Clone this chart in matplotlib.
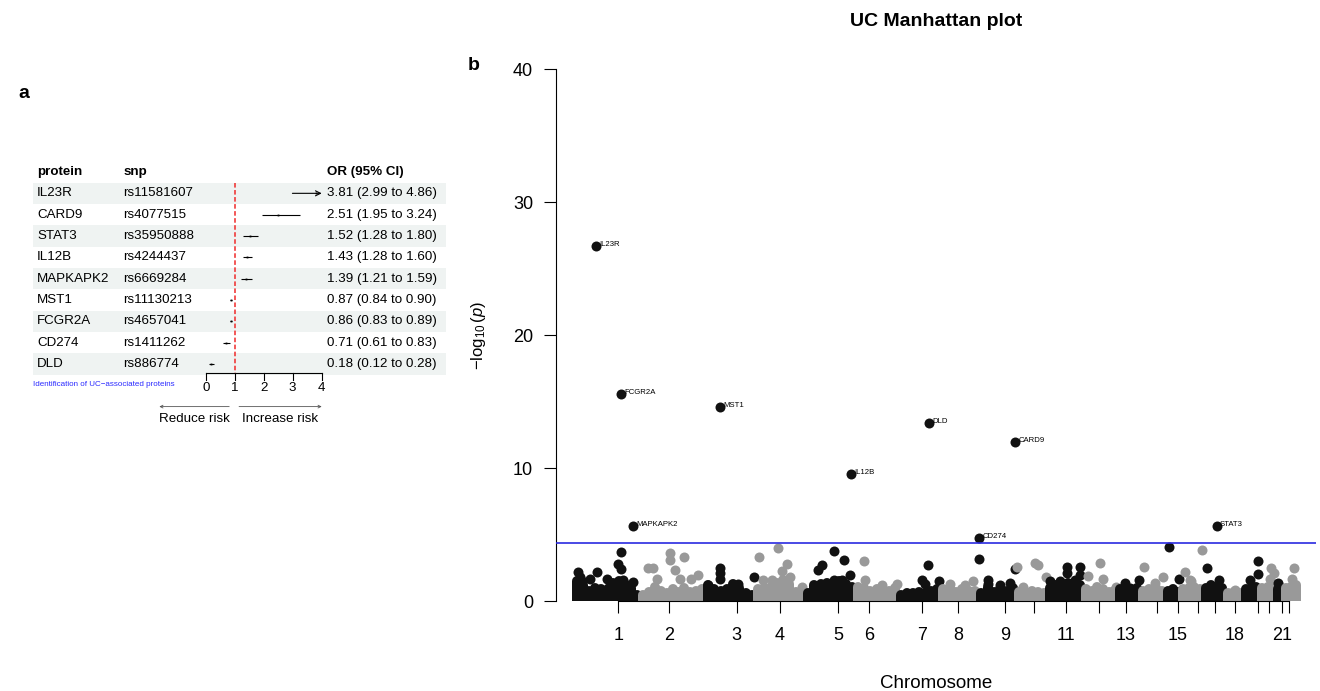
import matplotlib
matplotlib.use("Agg")
import matplotlib.pyplot as plt
import numpy as np
from matplotlib.collections import LineCollection

plt.rcParams['font.family'] = ['Liberation Sans', 'DejaVu Sans']
plt.rcParams['mathtext.fontset'] = 'custom'
plt.rcParams['mathtext.rm'] = 'Liberation Sans'
plt.rcParams['mathtext.it'] = 'Liberation Sans:italic'

# ---------------- Panel a: forest plot data ----------------
proteins = ["IL23R", "CARD9", "STAT3", "IL12B", "MAPKAPK2", "MST1", "FCGR2A", "CD274", "DLD"]
snps = ["rs11581607", "rs4077515", "rs35950888", "rs4244437", "rs6669284",
        "rs11130213", "rs4657041", "rs1411262", "rs886774"]
or_est = [3.81, 2.51, 1.52, 1.43, 1.39, 0.87, 0.86, 0.71, 0.18]
or_lo = [2.99, 1.95, 1.28, 1.28, 1.21, 0.84, 0.83, 0.61, 0.12]
or_hi = [4.86, 3.24, 1.80, 1.60, 1.59, 0.90, 0.89, 0.83, 0.28]
or_ticks = [0, 1, 2, 3, 4]

# ---------------- Panel b: Manhattan data ----------------
chrom_lengths = [66, 65, 50, 50, 50, 43, 42, 38, 38, 31, 36, 34, 23, 25, 15, 23, 22, 18, 16, 17, 7, 15]
chrom_ticks = [44.3, 95.3, 162.7, 206, 264.3, 295.3, 348.3, 384.3, 431, 460.3, 492, 525,
               552, 582.7, 603.7, 623.7, 641, 661, 684.3, 695, 708, 715]
chrom_tick_labels = ['1', '2', '3', '4', '5', '6', '7', '8', '9', '', '11', '', '13', '',
                     '15', '', '', '18', '', '', '21', '']

# dense background (-log10 p envelope of the point cloud, per chromosome)
mass_heights = [
    [1.5, 1.2, 0.8, 1.0, 0.9, 0.7, 1.4, 1.5, 1.3, 1.0, 0.5],
    [0.5, 0.7, 1.1, 0.8, 0.6, 0.9, 0.7, 1.0, 0.7, 0.8, 0.9],
    [1.2, 0.9, 0.8, 0.9, 1.3, 1.0, 0.6, 0.5],
    [0.9, 1.0, 1.1, 1.4, 1.6, 1.3, 0.7, 0.5],
    [0.6, 1.2, 1.3, 1.4, 1.2, 1.5, 1.3, 1.1],
    [1.1, 1.0, 0.8, 0.9, 0.7, 0.8, 1.0],
    [0.5, 0.6, 0.6, 0.7, 0.6, 0.8, 0.9],
    [0.9, 1.0, 0.7, 0.9, 0.8, 0.8],
    [0.6, 1.1, 0.7, 0.9, 0.8, 1.0],
    [0.7, 0.6, 0.8, 0.7, 0.6],
    [1.0, 1.2, 1.3, 1.4, 1.3, 1.2],
    [0.9, 0.8, 1.1, 0.9, 0.7, 0.8],
    [0.9, 1.1, 0.8, 1.0],
    [0.8, 0.9, 1.0, 0.8],
    [0.8, 0.9, 0.7],
    [0.9, 1.0, 1.1, 0.9],
    [1.0, 1.2, 1.1, 1.0],
    [0.6, 0.7, 0.6],
    [0.9, 1.0, 1.1],
    [1.0, 1.1, 1.0],
    [0.9, 1.0],
    [1.0, 1.1, 1.2],
]

# individual SNPs standing out of the cloud (cumulative position, -log10 p)
snp_pos = [4.3, 6, 8, 16, 22.7, 32.7, 34.3, 44.3, 47, 47, 49.3, 59.3,
           74, 79, 82.7, 96, 96, 101, 106, 110.3, 117, 124.3,
           146, 146, 146, 134.3, 164.3, 180,
           204.3, 185.3, 212.7, 189.3, 197.7, 207.7, 216, 227.7,
           244.3, 248.3, 260.3, 270.3, 276, 267.7, 260.3, 280,
           290.3, 291, 307.7, 322.7,
           353.7, 348.3, 351, 365,
           399.3, 376, 391,
           405.3, 414.3, 414.3, 426, 436, 441,
           443, 461, 464.3, 449.3, 472,
           476, 486, 493, 493, 506, 506, 501,
           526, 513.7, 529.3, 542,
           551, 565, 556,
           570, 589.3, 581,
           595, 605,
           611, 617, 627.7, 616,
           633.3, 645.3,
           661,
           684, 684, 676,
           696.7, 700, 696,
           704.3,
           720.3, 717.7]
snp_logp = [2.2, 1.85, 1.5, 1.7, 2.2, 1.7, 1.0, 2.8, 2.45, 3.7, 1.6, 1.45,
            2.5, 2.5, 1.7, 3.6, 3.1, 2.35, 1.7, 3.3, 1.7, 2.0,
            2.5, 2.1, 1.7, 1.2, 1.3, 1.8,
            4.0, 3.3, 2.8, 1.6, 1.6, 2.3, 1.85, 1.1,
            2.35, 2.7, 3.8, 3.1, 2.0, 1.6, 1.6, 1.0,
            3.0, 1.6, 1.2, 1.3,
            2.7, 1.6, 1.3, 1.5,
            1.5, 1.3, 1.2,
            3.2, 1.6, 1.3, 1.2, 1.35, 2.4,
            2.6, 2.85, 2.7, 1.1, 1.85,
            1.5, 1.5, 2.6, 2.1, 2.55, 2.0, 1.6,
            2.85, 1.9, 1.7, 1.1,
            1.35, 1.6, 1.0,
            2.6, 1.8, 1.35,
            4.1, 1.7,
            2.2, 1.5, 3.85, 1.6,
            2.5, 1.6,
            0.85,
            3.05, 2.05, 1.6,
            2.5, 2.1, 1.7,
            1.35,
            2.5, 1.7]

lead_genes = ["IL23R", "FCGR2A", "MAPKAPK2", "MST1", "IL12B", "DLD", "CD274", "CARD9", "STAT3"]
lead_pos = [21.7, 47, 59, 146, 276.7, 355.3, 405.3, 441, 642.7]
lead_logp = [26.74, 15.61, 5.64, 14.59, 9.57, 13.41, 4.78, 11.95, 5.66]
threshold = 4.36

assert len(snp_pos) == len(snp_logp)

W, H = 1320, 691
fig = plt.figure(figsize=(W / 100, H / 100), dpi=100)

# =============== Panel a ===============
fx0, fx1 = 32.7, 446.0
fy0, fy1 = 159.2, 432.2
axf = fig.add_axes([fx0 / W, 1 - fy1 / H, (fx1 - fx0) / W, (fy1 - fy0) / H])
axf.set_xlim(-5.966, 8.286)
axf.set_ylim(11.2, -1.6)
axf.axis('off')

n = len(proteins)
for i in range(0, n, 2):
    axf.axhspan(i - 0.5, i + 0.5, color='#eff3f2', zorder=0, lw=0)

fs = 9.6
col_protein, col_snp, col_or = -5.81, -2.84, 4.172
axf.text(col_protein, -1, 'protein', fontsize=fs, fontweight='bold', va='center', ha='left')
axf.text(col_snp, -1, 'snp', fontsize=fs, fontweight='bold', va='center', ha='left')
axf.text(col_or, -1, 'OR (95% CI)', fontsize=fs, fontweight='bold', va='center', ha='left')
for i in range(n):
    axf.text(col_protein, i, proteins[i], fontsize=fs, va='center', ha='left')
    axf.text(col_snp, i, snps[i], fontsize=fs, va='center', ha='left')
    axf.text(col_or, i, f"{or_est[i]:.2f} ({or_lo[i]:.2f} to {or_hi[i]:.2f})",
             fontsize=fs, va='center', ha='left')
    lo = max(or_lo[i], or_ticks[0])
    hi = min(or_hi[i], or_ticks[-1])
    if or_hi[i] > or_ticks[-1]:
        axf.annotate('', xy=(hi, i), xytext=(lo, i),
                     arrowprops=dict(arrowstyle='->', lw=0.8, color='black',
                                     shrinkA=0, shrinkB=0, mutation_scale=9))
    else:
        axf.plot([lo, hi], [i, i], color='black', lw=0.8, solid_capstyle='butt')
    axf.plot([or_est[i]], [i], marker='s', ms=1.3, color='black', mew=0)

axis_row = 8.41
axf.plot([1, 1], [-0.5, axis_row], color='#f02a2a', lw=1.1, ls=(0, (3, 1.6)), zorder=3)
axf.plot([or_ticks[0], or_ticks[-1]], [axis_row, axis_row], color='black', lw=0.8)
for t in or_ticks:
    axf.plot([t, t], [axis_row, axis_row + 0.34], color='black', lw=0.8)
    axf.text(t, 9.13, str(t), fontsize=fs, ha='center', va='center')
axf.text(-5.95, 8.96, 'Identification of UC\u2212associated proteins', fontsize=5.8,
         color='#2a2aff', ha='left', va='center')
axf.annotate('', xy=(-1.6, 10.0), xytext=(0.81, 10.0),
             arrowprops=dict(arrowstyle='->', lw=0.6, color='#555555',
                             shrinkA=0, shrinkB=0, mutation_scale=5))
axf.annotate('', xy=(4.0, 10.0), xytext=(1.15, 10.0),
             arrowprops=dict(arrowstyle='->', lw=0.6, color='#555555',
                             shrinkA=0, shrinkB=0, mutation_scale=5))
axf.text(-0.4, 10.6, 'Reduce risk', fontsize=fs, ha='center', va='center')
axf.text(2.56, 10.6, 'Increase risk', fontsize=fs, ha='center', va='center')

# =============== Panel b ===============
mx0, mx1 = 556.0, 1316.0
my0, my1 = 69.3, 601.3
ax = fig.add_axes([mx0 / W, 1 - my1 / H, (mx1 - mx0) / W, (my1 - my0) / H])
ax.set_xlim(-18, 742)
ax.set_ylim(0, 40)

starts = np.concatenate([[0], np.cumsum(chrom_lengths)[:-1]])
ends = np.cumsum(chrom_lengths)
colors = ['#111111', '#999999']
snp_pos_a = np.array(snp_pos)
snp_logp_a = np.array(snp_logp)
snp_chr = np.searchsorted(ends, snp_pos_a, side='left')
snp_chr = np.minimum(snp_chr, len(chrom_lengths) - 1)
dot_lw = 7.2
dot_s = dot_lw ** 2

for c in range(len(chrom_lengths)):
    col = colors[c % 2]
    h = np.array(mass_heights[c])
    k = len(h)
    xs = starts[c] + (np.arange(k) + 0.5) * chrom_lengths[c] / k
    segs = [[(x, 0.0), (x, y)] for x, y in zip(xs, h)]
    lc = LineCollection(segs, colors=col, linewidths=dot_lw, capstyle='round', zorder=2 + c * 0.01)
    ax.add_collection(lc)
    m = snp_chr == c
    ax.scatter(snp_pos_a[m], snp_logp_a[m], s=dot_s, color=col, lw=0, zorder=2.005 + c * 0.01)

lead_chr = np.searchsorted(ends, np.array(lead_pos), side='left')
for g, x, y, c in zip(lead_genes, lead_pos, lead_logp, lead_chr):
    ax.scatter([x], [y], s=dot_s, color=colors[c % 2], lw=0, zorder=3)
    ax.annotate(g, (x, y), xytext=(2.3, 0), textcoords='offset points',
                fontsize=5.6, va='baseline', ha='left', zorder=4)

ax.axhline(threshold, color='#2a2ae0', lw=1.2, zorder=3.5)

for sp in ['top', 'right']:
    ax.spines[sp].set_visible(False)
ax.spines['left'].set_bounds(0, 40)
ax.spines['bottom'].set_bounds(chrom_ticks[0], chrom_ticks[-1])
ax.spines['left'].set_linewidth(0.8)
ax.spines['bottom'].set_linewidth(0.8)
ax.set_yticks([0, 10, 20, 30, 40])
ax.set_xticks(chrom_ticks)
ax.set_xticklabels(chrom_tick_labels)
ax.tick_params(axis='both', length=8.4, width=0.8, labelsize=13)
ax.tick_params(axis='y', pad=8)
ax.tick_params(axis='x', pad=10)

fig.text(936 / W, 1 - 22 / H, 'UC Manhattan plot', fontsize=14, fontweight='bold',
         ha='center', va='center')
fig.text(936 / W, 1 - 683 / H, 'Chromosome', fontsize=13.5, ha='center', va='center')
fig.text(478 / W, 1 - 335 / H, r'$-\log_{10}(\mathit{p})$', fontsize=12, rotation=90,
         ha='center', va='center')
fig.text(24 / W, 1 - 93 / H, 'a', fontsize=14, fontweight='bold', ha='center', va='center')
fig.text(474 / W, 1 - 65 / H, 'b', fontsize=14, fontweight='bold', ha='center', va='center')

fig.savefig('out.png', dpi=100)
